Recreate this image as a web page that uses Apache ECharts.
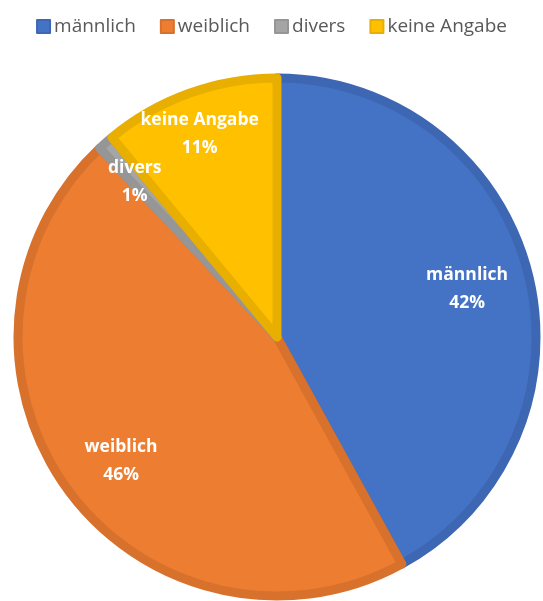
<!DOCTYPE html>
<html><head><meta charset="utf-8">
<script src="https://cdn.jsdelivr.net/npm/echarts@6/dist/echarts.min.js"></script>
<style>html,body{margin:0;padding:0;background:#fff}#c{width:543px;height:601px}</style>
</head><body><div id="c"></div>
<script>
const categories = ['männlich', 'weiblich', 'divers', 'keine Angabe'];
const values = [42, 46, 1, 11];
const fillColors = ['#4472C4', '#ED7D31', '#A5A5A5', '#FFC000'];
const borderColors = ['#3D67B2', '#D8712C', '#969696', '#E8AE00'];
const labelOffsets = [[-11, 4], [12, 2], [-5, 1], [-7, -8]];

const chart = echarts.init(document.getElementById('c'), null, {renderer: 'canvas'});
const center = [277, 337];
const R = 259;
chart.setOption({
  animation: false,
  legend: {
    top: 12, left: 'center',
    itemWidth: 13, itemHeight: 13, itemGap: 24,
    icon: 'rect',
    textStyle: {fontFamily: 'Open Sans', fontSize: 19, color: '#595959', padding: [0,0,0,-1]},
    data: categories
  },
  series: [{
    type: 'pie',
    center: center,
    radius: [0, R],
    startAngle: 90,
    clockwise: true,
    silent: true,
    label: {show: false},
    labelLine: {show: false},
    data: categories.map((c, i) => ({
      name: c, value: values[i],
      itemStyle: {color: fillColors[i], borderColor: borderColors[i], borderWidth: 9, borderJoin: 'round'}
    }))
  }, {
    type: 'pie',
    center: center,
    radius: [R * 0.58, R],
    startAngle: 90,
    clockwise: true,
    silent: true,
    avoidLabelOverlap: false,
    minShowLabelAngle: 0,
    itemStyle: {color: 'rgba(0,0,0,0)'},
    label: {
      show: true, position: 'inside',
      formatter: p => p.name + '\n' + p.value + '%',
      fontFamily: 'Open Sans', fontWeight: 'bold', fontSize: 17.5, color: '#fff', lineHeight: 28
    },
    labelLayout: p => ({dx: labelOffsets[p.dataIndex][0], dy: labelOffsets[p.dataIndex][1], hideOverlap: false}),
    labelLine: {show: false},
    data: categories.map((c, i) => ({name: c, value: values[i]}))
  }]
});
</script></body></html>
